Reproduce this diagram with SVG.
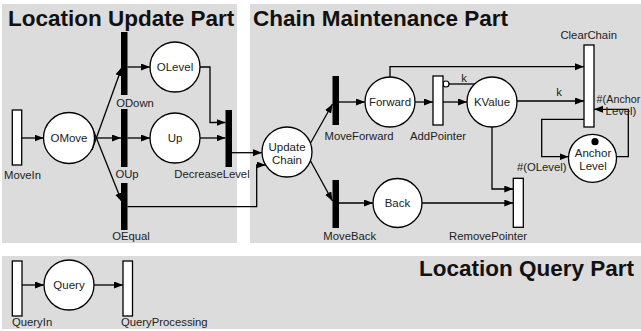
<svg xmlns="http://www.w3.org/2000/svg" width="641" height="331" viewBox="0 0 641 331">
<style>
.panel{fill:#dcdcdc;stroke:none}
.title{font-family:"Liberation Sans",Arial,sans-serif;font-weight:bold;font-size:22.5px;fill:#111}
.lbl{font-family:"Liberation Sans",Arial,sans-serif;font-size:11.3px;fill:#222}
.nl{font-family:"Liberation Sans",Arial,sans-serif;font-size:11.5px;fill:#222;text-anchor:middle}
.place{fill:#fff;stroke:#000;stroke-width:1.3}
.bar{fill:#000;stroke:none}
.tr{fill:#fff;stroke:#000;stroke-width:1.3}
.arc{fill:none;stroke:#000;stroke-width:1.3}
.m{text-anchor:middle}
</style>
<defs>
<marker id="ah" markerUnits="userSpaceOnUse" markerWidth="10" markerHeight="8" refX="9" refY="3.5" orient="auto">
<path d="M0,0 L9,3.5 L0,7 z" fill="#000"/>
</marker>
</defs>
<rect width="641" height="331" fill="#fff"/>
<g id="panels">
<rect class="panel" x="2" y="4" width="235" height="239"/>
<rect class="panel" x="250" y="4" width="391" height="239"/>
<rect class="panel" x="2" y="256" width="639" height="73"/>
<text class="title" x="8" y="26">Location Update Part</text>
<text class="title" x="253" y="26">Chain Maintenance Part</text>
<text class="title" x="634" y="276" text-anchor="end">Location Query Part</text>
</g>
<g id="connectors">
<path class="arc" d="M21.7,138 H43.5" marker-end="url(#ah)"/>
<path class="arc" d="M92,150 L122,67" marker-end="url(#ah)"/>
<path class="arc" d="M95,138 H121" marker-end="url(#ah)"/>
<path class="arc" d="M92,127 L122,202" marker-end="url(#ah)"/>
<path class="arc" d="M127.5,67 H150" marker-end="url(#ah)"/>
<path class="arc" d="M127.5,138 H150" marker-end="url(#ah)"/>
<path class="arc" d="M200,67 H210 V122.5 H225.5" marker-end="url(#ah)"/>
<path class="arc" d="M200,138 H225.5" marker-end="url(#ah)"/>
<path class="arc" d="M232,152.7 H262" marker-end="url(#ah)"/>
<path class="arc" d="M127.5,206.7 H256.7 V165 H265.6" marker-end="url(#ah)"/>
<path class="arc" d="M310,144 L332.5,104" marker-end="url(#ah)"/>
<path class="arc" d="M310,160 L332.5,201" marker-end="url(#ah)"/>
<path class="arc" d="M339,102 H365" marker-end="url(#ah)"/>
<path class="arc" d="M390,77 V66.7 H584" marker-end="url(#ah)"/>
<path class="arc" d="M415,102 H433" marker-end="url(#ah)"/>
<path class="arc" d="M443,102 H467" marker-end="url(#ah)"/>
<path class="arc" d="M475,84 H449"/>
<circle cx="446" cy="84" r="3" fill="#fff" stroke="#000" stroke-width="1.2"/>
<text class="lbl m" x="464" y="81.5">k</text>
<path class="arc" d="M517,101 H584" marker-end="url(#ah)"/>
<text class="lbl m" x="559" y="96">k</text>
<path class="arc" d="M492,127 V189 H513.3" marker-end="url(#ah)"/>
<path class="arc" d="M339,203 H373" marker-end="url(#ah)"/>
<path class="arc" d="M421.7,203 H513.3" marker-end="url(#ah)"/>
<path class="arc" d="M584,119.3 H541.7 V156.7 H568.5" marker-end="url(#ah)"/>
<text class="lbl m" x="541.7" y="171">#(OLevel)</text>
<path class="arc" d="M616.5,156.7 H628.3 V109.3 H594" marker-end="url(#ah)"/>
<text class="lbl m" x="618.5" y="103" style="font-size:10.8px">#(Anchor</text>
<text class="lbl m" x="621" y="114.5">Level)</text>
<path class="arc" d="M22,285 H44" marker-end="url(#ah)"/>
<path class="arc" d="M94,285 H123" marker-end="url(#ah)"/>
</g>
<g id="MoveIn"><rect class="tr" x="12.3" y="110" width="9.4" height="55"/><text class="lbl m" x="22.5" y="179">MoveIn</text></g>
<g id="OMove"><circle class="place" cx="69" cy="138" r="25.5"/><text class="nl" x="69" y="142">OMove</text></g>
<g id="ODown"><rect class="bar" x="121" y="32" width="6.5" height="63"/><text class="lbl m" x="135" y="107">ODown</text></g>
<g id="OUp"><rect class="bar" x="121" y="109" width="6.5" height="58"/><text class="lbl m" x="127" y="178">OUp</text></g>
<g id="OEqual"><rect class="bar" x="121" y="183" width="6.5" height="47"/><text class="lbl m" x="131" y="240">OEqual</text></g>
<g id="OLevel"><circle class="place" cx="175" cy="67" r="25"/><text class="nl" x="175" y="71">OLevel</text></g>
<g id="Up"><circle class="place" cx="175" cy="138" r="25"/><text class="nl" x="175" y="142">Up</text></g>
<g id="DecreaseLevel"><rect class="bar" x="225.5" y="110" width="6.5" height="57"/><text class="lbl m" x="212" y="178">DecreaseLevel</text></g>
<g id="UpdateChain"><circle class="place" cx="287" cy="152" r="25"/><text class="nl" x="287" y="150.8">Update</text><text class="nl" x="287" y="163.5">Chain</text></g>
<g id="MoveForward"><rect class="bar" x="332.5" y="76" width="6.5" height="49"/><text class="lbl m" x="359" y="140">MoveForward</text></g>
<g id="MoveBack"><rect class="bar" x="332.5" y="180" width="6.5" height="48"/><text class="lbl m" x="349.7" y="240">MoveBack</text></g>
<g id="Forward"><circle class="place" cx="390" cy="102" r="25"/><text class="nl" x="390" y="106">Forward</text></g>
<g id="AddPointer"><rect class="tr" x="433" y="76" width="10" height="49"/><text class="lbl m" x="438" y="140">AddPointer</text></g>
<g id="KValue"><circle class="place" cx="492" cy="102" r="25"/><text class="nl" x="492" y="106">KValue</text></g>
<g id="Back"><circle class="place" cx="397.5" cy="203" r="24.5"/><text class="nl" x="397.5" y="207">Back</text></g>
<g id="RemovePointer"><rect class="tr" x="513.3" y="178.3" width="10" height="49"/><text class="lbl m" x="488" y="239.5">RemovePointer</text></g>
<g id="ClearChain"><rect class="tr" x="584" y="45" width="10" height="82"/><text class="lbl m" x="588.7" y="39.3">ClearChain</text></g>
<g id="AnchorLevel"><circle class="place" cx="592.5" cy="158.3" r="24"/><circle cx="595" cy="141.7" r="3.6" fill="#000"/><text class="nl" x="593" y="156.5">Anchor</text><text class="nl" x="593" y="170">Level</text></g>
<g id="QueryIn"><rect class="tr" x="12.3" y="261" width="9.7" height="55"/><text class="lbl" x="12" y="326">QueryIn</text></g>
<g id="Query"><circle class="place" cx="69" cy="285" r="25"/><text class="nl" x="69" y="289">Query</text></g>
<g id="QueryProcessing"><rect class="tr" x="123" y="261" width="9.5" height="55"/><text class="lbl" x="121" y="326">QueryProcessing</text></g>
</svg>
